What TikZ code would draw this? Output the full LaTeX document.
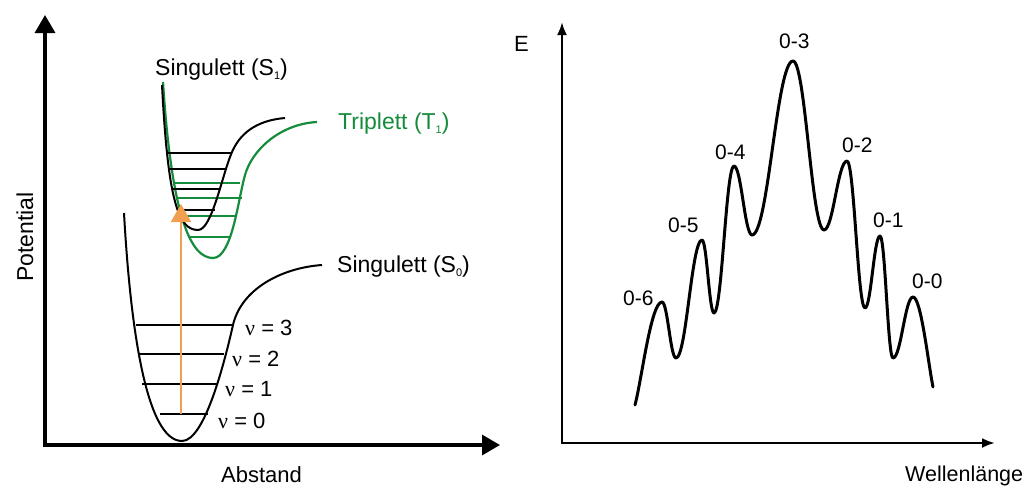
\documentclass[tikz,border=0pt]{standalone}
\usepackage{fontspec}
\setmainfont{Liberation Sans}
\newfontfamily\nufont{Liberation Serif}
\usetikzlibrary{arrows.meta}
\definecolor{exorange}{RGB}{240,160,80}
\definecolor{tgreen}{RGB}{20,140,60}
\newcommand{\lowsub}[1]{\raisebox{-0.35ex}{\fontsize{11}{11}\selectfont #1}}
\tikzset{
  lbl/.style={inner sep=0pt, anchor=base west, font=\fontsize{23}{27}\selectfont},
  nulbl/.style={inner sep=0pt, anchor=base west, font=\fontsize{22}{26}\selectfont},
  speclbl/.style={inner sep=0pt, anchor=base west, font=\fontsize{21}{25}\selectfont},
  axisL/.style={line width=3.3pt, line join=miter, {Triangle[width=20pt,length=18pt]}-{Triangle[width=20pt,length=18pt]}},
  axisR/.style={line width=2.5pt, line join=miter, {Latex[width=10pt,length=13pt]}-{Latex[width=10pt,length=13pt]}},
  pot/.style={line width=2pt},
  lev/.style={line width=2pt},
  spec/.style={line width=3pt, line join=round, line cap=round},
}
\begin{document}
\begin{tikzpicture}[x=1pt,y=-1pt]
\useasboundingbox (0,0) rectangle (1028,488);

% ---------- left panel ----------
\coordinate (LO) at (45,445);
\coordinate (LY) at (45,15);
\coordinate (LX) at (500,445);
\draw[axisL] (LY) -- (LO) -- (LX);
\node[lbl, rotate=90] (pot) at (33,282) {Potential};
\node[lbl, font=\fontsize{22}{26}\selectfont] (abst) at (221,482) {Abstand};

% S0 curve
\draw[pot] (124,213) .. controls (130,320) and (145,441) .. (182,441)
  .. controls (205,441) and (225,360) .. (233,325)
  .. controls (241,290) and (280,268) .. (322,265);
% S0 levels
\draw[lev] (160,414) -- (208,414);
\draw[lev] (142,384) -- (217,384);
\draw[lev] (139,354) -- (224,354);
\draw[lev] (136,325) -- (233,325);

% T1 curve (green)
\draw[pot, tgreen, line width=2.2pt] (163,82) .. controls (172,222) and (192,258) .. (213,258)
  .. controls (232,258) and (238,200) .. (245,175)
  .. controls (252,150) and (280,124) .. (317,122);
\draw[lev, tgreen] (175,183) -- (240,183);
\draw[lev, tgreen] (177,198) -- (242,198);
\draw[lev, tgreen] (182,216) -- (236,216);
\draw[lev, tgreen] (188,237) -- (230,237);

% S1 curve (black)
\draw[pot] (162,85) .. controls (168,200) and (178,230) .. (198,230)
  .. controls (212,230) and (222,175) .. (232,152)
  .. controls (242,129) and (262,120) .. (285,118);
\draw[lev] (167,153) -- (232,153);
\draw[lev] (170,169) -- (225,169);
\draw[lev] (173,189) -- (220,189);
\draw[lev] (177,210) -- (215,210);

% excitation arrow
\coordinate (exA) at (181,414);
\coordinate (exB) at (181,204);
\draw[exorange, line width=2.2pt, -{Triangle[width=20pt,length=18pt]}] (exA) -- (exB);

% labels
\node[lbl] (s1) at (155,75) {Singulett (S\lowsub{1})};
\node[lbl, text=tgreen] (t1) at (338,129) {Triplett (T\lowsub{1})};
\node[lbl] (s0) at (337,272) {Singulett (S\lowsub{0})};
\node[nulbl] (v3) at (245,335) {{\nufont ν} = 3};
\node[nulbl] (v2) at (232,366) {{\nufont ν} = 2};
\node[nulbl] (v1) at (225,396) {{\nufont ν} = 1};
\node[nulbl] (v0) at (218,428) {{\nufont ν} = 0};

% ---------- right panel ----------
\coordinate (RO) at (562,443);
\coordinate (RY) at (562,22);
\coordinate (RX) at (995,443);
\draw[axisR] (RY) -- (RO) -- (RX);
\node[speclbl, font=\fontsize{22}{26}\selectfont] (E) at (514,51) {E};
\node[speclbl, font=\fontsize{21.5}{25}\selectfont] (wl) at (905,481) {Wellenlänge};

\draw[spec] (635,405) .. controls (642,378) and (651,302) .. (662,302)
  .. controls (667.6,302) and (670.4,358) .. (676,358)
  .. controls (686.4,358) and (691.6,240) .. (702,240)
  .. controls (706.8,240) and (709.2,313) .. (714,313)
  .. controls (722,313) and (726,166) .. (734,166)
  .. controls (741.2,166) and (744.8,235) .. (752,235)
  .. controls (768.4,235) and (776.6,61) .. (793,61)
  .. controls (805.4,61) and (811.6,230) .. (824,230)
  .. controls (833.2,230) and (837.8,161) .. (847,161)
  .. controls (854.2,161) and (857.8,308) .. (865,308)
  .. controls (871,308) and (874,236) .. (880,236)
  .. controls (885.2,236) and (887.8,358) .. (893,358)
  .. controls (901,358) and (905,297) .. (913,297)
  .. controls (921,297) and (928,362) .. (933,387);

\node[speclbl] (p6) at (623,305) {0-6};
\node[speclbl] (p5) at (668,232) {0-5};
\node[speclbl] (p4) at (715,159) {0-4};
\node[speclbl] (p3) at (779,48) {0-3};
\node[speclbl] (p2) at (842,152) {0-2};
\node[speclbl] (p1) at (873,227) {0-1};
\node[speclbl] (p0) at (912,288) {0-0};
\end{tikzpicture}
\end{document}
